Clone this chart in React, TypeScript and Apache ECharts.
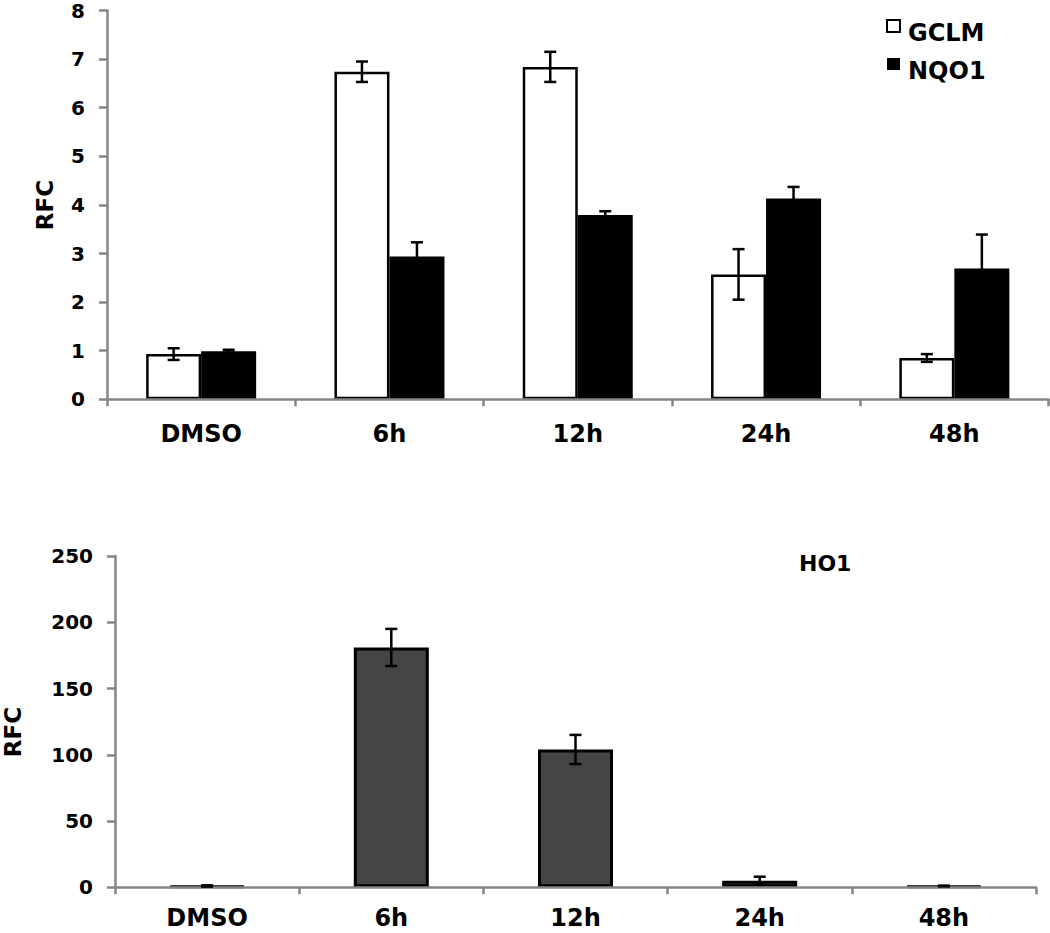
import React, { useEffect, useRef } from "react";
import * as echarts from "echarts";

const categories = ["DMSO", "6h", "12h", "24h", "48h"];
const gclmMean = [0.93, 6.74, 6.84, 2.57, 0.85];
const gclmErr = [0.12, 0.21, 0.31, 0.52, 0.08];
const nqo1Mean = [0.99, 2.94, 3.79, 4.13, 2.69];
const nqo1Err = [0.03, 0.29, 0.08, 0.24, 0.7];
const ho1Mean = [1, 181, 104, 5, 1];
const ho1Err = [0.5, 14, 11, 3, 0.3];

const FONT = "'DejaVu Sans', 'Liberation Sans', Arial, sans-serif";
const AXIS_GREY = "#868686";

function errorSeries(
  name: string,
  axisIndex: number,
  means: number[],
  errs: number[],
  offset: number,
  capHalf: number
) {
  return {
    name,
    type: "custom",
    xAxisIndex: axisIndex,
    yAxisIndex: axisIndex,
    silent: true,
    z: 10,
    data: means.map((m, i) => [i, m - errs[i], m + errs[i]]),
    encode: { x: 0, y: [1, 2] },
    renderItem: (params: any, api: any) => {
      const i = api.value(0);
      const lo = api.coord([i, api.value(1)]);
      const hi = api.coord([i, api.value(2)]);
      const x = lo[0] + offset;
      const style = { stroke: "#000", lineWidth: 2.5, fill: "none" };
      return {
        type: "group",
        children: [
          { type: "line", shape: { x1: x, y1: lo[1], x2: x, y2: hi[1] }, style },
          { type: "line", shape: { x1: x - capHalf, y1: hi[1], x2: x + capHalf, y2: hi[1] }, style },
          { type: "line", shape: { x1: x - capHalf, y1: lo[1], x2: x + capHalf, y2: lo[1] }, style },
        ],
      };
    },
  };
}

function xAxisCfg(gridIndex: number, margin: number) {
  return {
    type: "category",
    gridIndex,
    data: categories,
    boundaryGap: true,
    z: 5,
    axisLine: { show: true, lineStyle: { color: AXIS_GREY, width: 2.5 } },
    axisTick: { show: true, alignWithLabel: false, length: 7, lineStyle: { color: AXIS_GREY, width: 2.5 } },
    axisLabel: {
      color: "#000",
      fontFamily: FONT,
      fontWeight: "bold",
      fontSize: 24,
      lineHeight: 18,
      margin,
    },
    splitLine: { show: false },
  };
}

function yAxisCfg(gridIndex: number, max: number, interval: number) {
  return {
    type: "value",
    gridIndex,
    min: 0,
    max,
    interval,
    z: 5,
    axisLine: { show: true, lineStyle: { color: AXIS_GREY, width: 2.5 } },
    axisTick: { show: true, length: 8, lineStyle: { color: AXIS_GREY, width: 2.5 } },
    axisLabel: {
      color: "#000",
      fontFamily: FONT,
      fontWeight: "bold",
      fontSize: 20,
      lineHeight: 16,
      margin: 22,
      padding: [5, 0, 0, 0],
    },
    splitLine: { show: false },
  };
}

export default function App() {
  const ref = useRef<HTMLDivElement>(null);

  useEffect(() => {
    if (!ref.current) return;
    const chart = echarts.init(ref.current, null, { renderer: "svg" });
    chart.setOption({
      animation: false,
      backgroundColor: "#fff",
      title: {
        text: "HO1",
        left: 799,
        top: 552,
        padding: 0,
        textStyle: { fontFamily: FONT, fontWeight: "bold", fontSize: 22, color: "#000" },
      },
      legend: {
        data: ["GCLM", "NQO1"],
        orient: "vertical",
        left: 886,
        top: 7,
        padding: 0,
        itemWidth: 13,
        itemHeight: 12,
        itemGap: 0,
        icon: "rect",
        formatter: "{a|{name}}",
        textStyle: {
          fontFamily: FONT,
          fontWeight: "bold",
          fontSize: 24,
          color: "#000",
          rich: {
            a: {
              fontFamily: FONT,
              fontWeight: "bold",
              fontSize: 24,
              color: "#000",
              lineHeight: 19,
              padding: [14, 0, 0, 3],
            },
          },
        },
      },
      grid: [
        { left: 107, top: 5.3, width: 941.5, height: 394, containLabel: false },
        { left: 115, top: 556, width: 921, height: 331.3, containLabel: false },
      ],
      xAxis: [xAxisCfg(0, 26), xAxisCfg(1, 22)],
      yAxis: [yAxisCfg(0, 8, 1), yAxisCfg(1, 250, 50)],
      graphic: [
        {
          type: "text",
          x: 45,
          y: 205,
          rotation: Math.PI / 2,
          style: {
            text: "RFC",
            fontFamily: FONT,
            fontWeight: "bold",
            fontSize: 23,
            fill: "#000",
            align: "center",
            verticalAlign: "middle",
          },
        },
        {
          type: "text",
          x: 13,
          y: 732,
          rotation: Math.PI / 2,
          style: {
            text: "RFC",
            fontFamily: FONT,
            fontWeight: "bold",
            fontSize: 23,
            fill: "#000",
            align: "center",
            verticalAlign: "middle",
          },
        },
      ],
      series: [
        {
          name: "GCLM",
          type: "bar",
          xAxisIndex: 0,
          yAxisIndex: 0,
          data: gclmMean,
          barWidth: 55,
          barGap: "0%",
          itemStyle: { color: "#fff", borderColor: "#000", borderWidth: 2.5 },
        },
        {
          name: "NQO1",
          type: "bar",
          xAxisIndex: 0,
          yAxisIndex: 0,
          data: nqo1Mean,
          barWidth: 55,
          barGap: "0%",
          itemStyle: { color: "#000", borderColor: "#000", borderWidth: 0 },
        },
        {
          name: "HO1",
          type: "bar",
          xAxisIndex: 1,
          yAxisIndex: 1,
          data: ho1Mean,
          barWidth: 75,
          itemStyle: { color: "#454545", borderColor: "#000", borderWidth: 3 },
        },
        errorSeries("GCLM SD", 0, gclmMean, gclmErr, -27.5, 6),
        errorSeries("NQO1 SD", 0, nqo1Mean, nqo1Err, 27.5, 6),
        errorSeries("HO1 SD", 1, ho1Mean, ho1Err, 0, 6),
      ],
    });
    return () => chart.dispose();
  }, []);

  return (
    <div
      ref={ref}
      style={{ position: "absolute", left: 0, top: 0, width: 1050, height: 933 }}
    />
  );
}
